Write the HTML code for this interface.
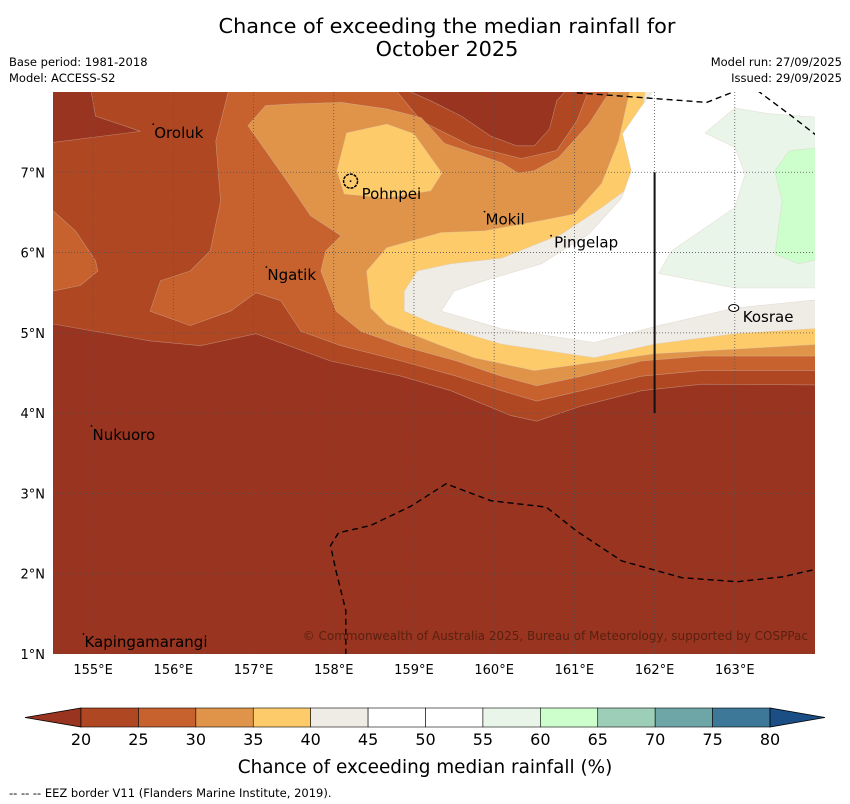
<!DOCTYPE html>
<html><head><meta charset="utf-8"><style>
body{margin:0;background:#fff;width:850px;height:804px;overflow:hidden;font-family:"DejaVu Sans","Liberation Sans",sans-serif;}
svg{position:absolute;left:0;top:0}
</style></head><body>
<svg id="chart" width="850" height="804" xmlns="http://www.w3.org/2000/svg"></svg>
<script>
// ---- data ----
const levels = [20,25,30,35,40,45,50,55,60,65,70,75,80];
const binColors = ['#b04723','#c7622f','#e0944a','#fdcb6a','#efebe5','#ffffff','#ffffff','#eaf5ea','#ccffcc','#9dcfb8','#6ea6a8','#3e7899'];
const underColor = '#993420';
const overColor = '#1a4e85';
const lonTicks = [155,156,157,158,159,160,161,162,163];
const latTicks = [1,2,3,4,5,6,7];
const below20Main = [[154.4,5.11],[154.5,5.11],[155.71,4.90],[156.34,4.84],[157.03,4.99],[157.96,4.65],[158.84,4.46],[159.46,4.28],[160.21,3.97],[160.53,3.90],[161.09,4.09],[161.84,4.28],[162.59,4.36],[164.1,4.35],[164.1,0.9],[154.4,0.9]];
const below20Corner = [[154.4,8.1],[154.96,8.1],[155.03,7.70],[155.59,7.51],[154.4,7.36]];
const below20Top = [[158.96,8.1],[158.96,8.0],[159.21,7.89],[159.59,7.70],[159.96,7.45],[160.28,7.33],[160.5,7.33],[160.69,7.54],[160.78,7.89],[160.88,8.0],[160.88,8.1]];
const ge25Main = [[156.71,8.1],[156.53,7.39],[156.59,6.64],[156.46,6.02],[156.21,5.77],[155.84,5.65],[155.71,5.27],[156.21,5.09],[156.71,5.27],[157.03,5.50],[157.34,5.40],[157.59,5.02],[158.09,4.84],[158.84,4.65],[159.53,4.46],[160.09,4.28],[160.53,4.15],[161.09,4.28],[161.84,4.46],[162.59,4.53],[164.1,4.53],[164.1,8.1],[161.21,8.1],[161.03,7.64],[160.78,7.27],[160.34,7.17],[159.71,7.33],[159.09,7.64],[158.71,8.1]];
const ge25Left = [[154.4,6.52],[154.5,6.52],[154.78,6.27],[155.03,5.90],[155.06,5.77],[154.84,5.59],[154.5,5.52],[154.4,5.52]];
const ge30 = [[157.46,7.85],[157.15,7.83],[156.93,7.58],[157.15,7.27],[157.46,6.83],[157.71,6.46],[158.09,6.21],[157.9,6.02],[157.84,5.77],[158.03,5.27],[158.34,5.02],[158.84,4.84],[159.53,4.65],[160.09,4.46],[160.53,4.34],[161.09,4.46],[161.84,4.65],[162.59,4.71],[164.1,4.71],[164.1,8.1],[161.5,8.1],[161.18,7.6],[160.8,7.18],[160.5,7.02],[160.3,6.99],[160.09,7.12],[159.38,7.36],[159.09,7.68],[158.66,7.79],[158.09,7.87]];
const ge35Pohnpei = [[158.16,7.49],[158.66,7.6],[159.0,7.48],[159.35,6.99],[159.21,6.77],[158.66,6.68],[158.13,6.73],[158.04,7.02]];
const ge35Main = [[158.41,5.77],[158.66,6.06],[159.34,6.25],[159.88,6.27],[160.59,6.40],[161.0,6.48],[161.34,6.86],[161.55,7.39],[161.71,8.1],[164.1,8.1],[164.1,4.86],[162.0,4.74],[160.5,4.53],[159.75,4.69],[159.29,4.86],[158.66,5.11],[158.46,5.31]];
const ge40 = [[158.88,5.52],[159.04,5.77],[159.46,5.86],[160.09,5.93],[160.84,6.23],[161.34,6.56],[161.75,6.86],[161.84,7.06],[161.8,7.48],[161.9,8.1],[164.1,8.1],[164.1,5.06],[163.0,4.99],[162.0,4.86],[161.25,4.69],[160.09,4.86],[159.25,5.11],[158.88,5.27]];
const ge45 = [[159.34,5.27],[159.5,5.52],[159.88,5.65],[160.59,5.86],[161.18,6.23],[161.59,6.68],[161.71,7.02],[161.6,7.48],[161.82,7.80],[162.05,8.1],[164.1,8.1],[164.1,5.42],[163.0,5.31],[162.05,5.09],[161.25,4.88],[160.09,5.05]];
const ge55 = [[162.63,7.49],[163.0,7.80],[163.43,7.73],[164.1,7.68],[164.1,5.56],[163.0,5.56],[162.05,5.74],[162.21,6.02],[163.0,6.56],[163.13,6.98],[163.0,7.31]];
const ge60 = [[163.68,7.27],[164.1,7.31],[164.1,5.93],[163.8,5.86],[163.5,5.98],[163.59,6.64],[163.5,7.02]];
const eezTop1 = [[161.03,7.99],[161.84,7.93],[162.65,7.87],[163.03,8.02]];
const eezTop2 = [[163.28,8.02],[163.71,7.7],[164.03,7.45]];
const eezBottom = [[158.15,0.99],[158.15,1.54],[158.03,2.03],[157.96,2.35],[158.06,2.51],[158.46,2.6],[158.96,2.84],[159.4,3.12],[159.96,2.91],[160.65,2.83],[161.03,2.53],[161.59,2.16],[162.34,1.95],[163.03,1.9],[163.59,1.96],[164.03,2.06]];
const boundaryLine = [[162,4.0],[162,7.0]];
const placeNames = ['Oroluk','Pohnpei','Mokil','Pingelap','Ngatik','Nukuoro','Kapingamarangi','Kosrae'];
const placeLon = [155.75,158.21,159.88,160.71,157.16,154.98,154.88,163.0];
const placeLat = [7.6,6.89,6.51,6.21,5.82,3.84,1.25,5.31];

// ---- axes ----
const X0=53,X1=815,Y0=92,Y1=654;
const lonMin=154.5,lonMax=164.0,latMin=1.0,latMax=8.0;
const xs = lon => X0 + (lon-lonMin)/(lonMax-lonMin)*(X1-X0);
const ys = lat => Y1 - (lat-latMin)/(latMax-latMin)*(Y1-Y0);
const NS='http://www.w3.org/2000/svg';
const svg=document.getElementById('chart');
function mk(tag, attrs, parent){const e=document.createElementNS(NS,tag);for(const k in attrs)e.setAttribute(k,attrs[k]);(parent||svg).appendChild(e);return e;}
const pts = arr => arr.map(p=>xs(p[0]).toFixed(1)+','+ys(p[1]).toFixed(1)).join(' ');

// title
let t;
t=mk('text',{x:447,y:33,'text-anchor':'middle','font-size':20.8,fill:'#000'});t.textContent='Chance of exceeding the median rainfall for';


t=mk('text',{x:447,y:56,'text-anchor':'middle','font-size':20.8,fill:'#000'});t.textContent='October 2025';


const meta=[['Base period: 1981-2018',9,66,'start','base-period'],['Model: ACCESS-S2',9,82,'start','model-name'],['Model run: 27/09/2025',842,66,'end','model-run'],['Issued: 29/09/2025',842,82,'end','issued-date']];
meta.forEach(m=>{const e=mk('text',{x:m[1],y:m[2],'text-anchor':m[3],'font-size':11.5,fill:'#000'});e.textContent=m[0];

});

// map
mk('clipPath',{id:'mapclip'});
mk('rect',{x:X0,y:Y0,width:X1-X0,height:Y1-Y0},svg.lastChild);
const map=mk('g',{'clip-path':'url(#mapclip)'});


mk('rect',{x:X0,y:Y0,width:X1-X0,height:Y1-Y0,fill:binColors[0]},map);
const layers=[[below20Main,underColor,'contour-below-20'],[below20Corner,underColor,'contour-below-20-corner'],[below20Top,underColor,'contour-below-20-top'],
[ge25Main,binColors[1],'contour-25'],[ge25Left,binColors[1],'contour-25-west'],[ge30,binColors[2],'contour-30'],[ge35Pohnpei,binColors[3],'contour-35-pohnpei'],[ge35Main,binColors[3],'contour-35'],
[ge40,binColors[4],'contour-40'],[ge45,binColors[5],'contour-45'],[ge55,binColors[7],'contour-55'],[ge60,binColors[8],'contour-60']];
layers.forEach(l=>{const p=mk('polygon',{points:pts(l[0]),fill:l[1],stroke:'#d8c8b8','stroke-width':0.6,'stroke-opacity':0.5},map);

});
// grid
lonTicks.forEach(v=>{const g=mk('line',{x1:xs(v),x2:xs(v),y1:Y0,y2:Y1,stroke:'#555','stroke-width':0.8,'stroke-dasharray':'1,2'},map);

});
latTicks.forEach(v=>{const g=mk('line',{x1:X0,x2:X1,y1:ys(v),y2:ys(v),stroke:'#555','stroke-width':0.8,'stroke-dasharray':'1,2'},map);

});
// EEZ
[eezTop1,eezTop2,eezBottom].forEach(a=>{const e=mk('polyline',{points:pts(a),fill:'none',stroke:'#000','stroke-width':1.4,'stroke-dasharray':'6,4'},map);

});
const bl=mk('polyline',{points:pts(boundaryLine),fill:'none',stroke:'#111','stroke-width':2},map);


// islands
let isl=mk('circle',{cx:xs(158.21),cy:ys(6.89),r:7,fill:'none',stroke:'#000','stroke-width':1.5,'stroke-dasharray':'3,1'},map);


isl=mk('ellipse',{cx:xs(163.0)-1,cy:ys(5.31),rx:5,ry:3.5,fill:'#fff',stroke:'#000','stroke-width':1},map);


// places
const offs=[[0,14],[10,18],[0,13],[2,12],[0,13],[0,14],[0,13],[7,14]];
placeNames.forEach((n,i)=>{const x=xs(placeLon[i]),y=ys(placeLat[i]);
mk('circle',{cx:x,cy:y,r:0.9,fill:'#000'},map);
const e=mk('text',{x:x+offs[i][0]+1,y:y+offs[i][1],'font-size':15,fill:'#000'},map);e.textContent=n;

});
t=mk('text',{x:808,y:640,'text-anchor':'end','font-size':12,fill:'#5a2010'},map);t.textContent='© Commonwealth of Australia 2025, Bureau of Meteorology, supported by COSPPac';



// tick labels
lonTicks.forEach(v=>{const e=mk('text',{x:xs(v),y:674,'text-anchor':'middle','font-size':13,fill:'#000'});e.textContent=v+'°E';

});
latTicks.forEach(v=>{const e=mk('text',{x:45,y:ys(v)+5,'text-anchor':'end','font-size':13,fill:'#000'});e.textContent=v+'°N';

});

// colorbar
const CB0=81,CB1=770,CBy=708,CBh=19;
const segW=(CB1-CB0)/binColors.length;
const cb=mk('g',{});


let tri=mk('polygon',{points:`25,${CBy+CBh/2} ${CB0},${CBy} ${CB0},${CBy+CBh}`,fill:underColor,stroke:'#000','stroke-width':0.8},cb);


binColors.forEach((c,i)=>{const r=mk('rect',{x:CB0+i*segW,y:CBy,width:segW,height:CBh,fill:c,stroke:'#000','stroke-width':0.6},cb);

});
tri=mk('polygon',{points:`825,${CBy+CBh/2} ${CB1},${CBy} ${CB1},${CBy+CBh}`,fill:overColor,stroke:'#000','stroke-width':0.8},cb);


levels.forEach((v,i)=>{const e=mk('text',{x:CB0+i*segW,y:745,'text-anchor':'middle','font-size':16,fill:'#000'},cb);e.textContent=v;

});
t=mk('text',{x:425,y:773,'text-anchor':'middle','font-size':18.4,fill:'#000'});t.textContent='Chance of exceeding median rainfall (%)';


t=mk('text',{x:9,y:797,'font-size':11.5,fill:'#000','xml:space':'preserve'});t.textContent='--  --  -- EEZ border V11 (Flanders Marine Institute, 2019).';


</script>
</body></html>
